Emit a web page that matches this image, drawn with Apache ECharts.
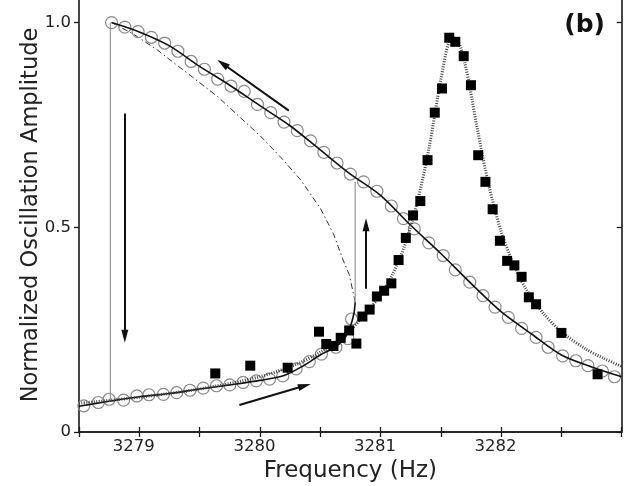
<!DOCTYPE html>
<html>
<head>
<meta charset="utf-8">
<script src="https://cdn.jsdelivr.net/npm/echarts@6/dist/echarts.min.js"></script>
<style>
html,body{margin:0;padding:0;background:#fff;}
#chart{width:624px;height:486px;}
</style>
</head>
<body>
<div id="chart"></div>
<script>
// ---- data ----
const upperCircleX = [3278.77,3278.88,3278.99,3279.10,3279.21,3279.32,3279.43,3279.54,3279.65,3279.76,3279.87,3279.98,3280.09,3280.20,3280.31,3280.42,3280.53,3280.64,3280.75,3280.86,3280.97,3281.09,3281.19,3281.28,3281.40,3281.52,3281.62,3281.74,3281.85,3281.95,3282.06,3282.17,3282.29,3282.39,3282.51,3282.62,3282.72,3282.84,3282.94];
const upperCircleY = [1.000,0.989,0.978,0.964,0.950,0.930,0.905,0.886,0.862,0.845,0.832,0.800,0.780,0.757,0.736,0.711,0.683,0.657,0.630,0.611,0.588,0.552,0.521,0.496,0.462,0.431,0.396,0.366,0.333,0.305,0.280,0.253,0.231,0.207,0.186,0.174,0.162,0.149,0.135];
const lowerCircleX = [3278.54,3278.66,3278.75,3278.87,3278.98,3279.08,3279.20,3279.31,3279.42,3279.53,3279.64,3279.75,3279.86,3279.97,3280.08,3280.19,3280.30,3280.41,3280.51,3280.63,3280.73,3280.76];
const lowerCircleY = [0.064,0.072,0.080,0.078,0.088,0.091,0.092,0.096,0.102,0.107,0.113,0.115,0.121,0.125,0.129,0.137,0.154,0.172,0.190,0.207,0.228,0.276];
const upperFitX = [3278.77,3279.0,3279.25,3279.5,3279.75,3280.0,3280.25,3280.5,3280.75,3281.0,3281.25,3281.5,3281.75,3282.0,3282.25,3282.5,3282.75,3283.0];
const upperFitY = [1.000,0.977,0.943,0.893,0.847,0.797,0.748,0.689,0.630,0.578,0.505,0.436,0.363,0.294,0.240,0.188,0.159,0.135];
const lowerFitX = [3278.5,3278.75,3279.0,3279.25,3279.5,3279.75,3280.0,3280.2,3280.35,3280.5,3280.62,3280.7,3280.75,3280.78,3280.79];
const lowerFitY = [0.063,0.075,0.086,0.094,0.105,0.115,0.126,0.138,0.160,0.188,0.207,0.228,0.258,0.290,0.317];
const unstableX = [3280.79,3280.77,3280.74,3280.69,3280.61,3280.50,3280.34,3280.17,3280.0,3279.65,3279.40,3279.15,3278.95,3278.77];
const unstableY = [0.317,0.345,0.385,0.420,0.484,0.547,0.615,0.672,0.724,0.819,0.876,0.933,0.972,1.000];
const squareX = [3279.63,3279.92,3280.23,3280.49,3280.55,3280.61,3280.67,3280.74,3280.80,3280.85,3280.91,3280.97,3281.03,3281.09,3281.15,3281.21,3281.27,3281.33,3281.39,3281.45,3281.51,3281.57,3281.62,3281.69,3281.75,3281.81,3281.87,3281.93,3281.99,3282.05,3282.11,3282.17,3282.23,3282.29,3282.50,3282.80];
const squareY = [0.143,0.162,0.157,0.245,0.215,0.210,0.230,0.248,0.216,0.282,0.299,0.331,0.345,0.363,0.420,0.474,0.529,0.564,0.664,0.780,0.839,0.963,0.953,0.918,0.847,0.676,0.611,0.544,0.467,0.418,0.407,0.379,0.329,0.312,0.242,0.141];
const linearFitX = [3278.5,3279.0,3279.5,3280.0,3280.3,3280.5,3280.7,3280.85,3281.0,3281.1,3281.2,3281.3,3281.4,3281.5,3281.57,3281.62,3281.7,3281.8,3281.9,3282.0,3282.1,3282.2,3282.35,3282.5,3282.7,3282.85,3283.0];
const linearFitY = [0.070,0.085,0.105,0.135,0.165,0.195,0.235,0.280,0.335,0.385,0.455,0.555,0.690,0.860,0.955,0.962,0.900,0.745,0.600,0.490,0.412,0.352,0.290,0.245,0.203,0.180,0.160];
// jump lines (gray)
const jumpDownX = [3278.76,3278.76];
const jumpDownY = [0.078,1.000];
const jumpUpX = [3280.79,3280.79];
const jumpUpY = [0.317,0.611];
// arrows [x0,y0,x1,y1] in data units
const arrowUpper = [3280.24,0.785,3279.69,0.900];
const arrowDown = [3278.88,0.778,3278.88,0.234];
const arrowUp = [3280.88,0.350,3280.88,0.506];
const arrowLower = [3279.83,0.066,3280.37,0.113];
// ticks
const xTickValues = [3279,3280,3281,3282];
const xTickLabels = ['3279','3280','3281','3282'];
const yTickValues = [0,0.5,1];
const yTickLabels = ['0','0.5','1.0'];

const zip = (xs, ys) => xs.map((x, i) => [x, ys[i]]);
const lookup = (vals, labels) => v => {
  const i = vals.findIndex(t => Math.abs(t - v) < 1e-6);
  return i >= 0 ? labels[i] : '';
};
const FONT = 'DejaVu Sans';
const axisLine = {show: true, lineStyle: {color: '#1a1a1a', width: 1.6}};
const arrowSeries = (c) => ({
  type: 'lines', coordinateSystem: 'cartesian2d', xAxisIndex: 0, yAxisIndex: 0,
  symbol: ['none', 'path://M0,0 L1,2 L-1,2 Z'], symbolSize: [0, [7, 13]],
  lineStyle: {color: '#111', width: 2, opacity: 1}, silent: true, z: 6,
  data: [{coords: [[c[0], c[1]], [c[2], c[3]]]}]
});

const chart = echarts.init(document.getElementById('chart'), null, {renderer: 'canvas'});
chart.setOption({
  animation: false,
  backgroundColor: '#fff',
  grid: {left: 79, right: 2.3, top: -2, bottom: 54, outerBoundsMode: 'none', containLabel: false},
  xAxis: [{
    type: 'value', min: 3278.5, max: 3283, interval: 0.5, position: 'bottom',
    axisLine: axisLine, splitLine: {show: false},
    axisTick: {show: true, inside: true, length: 5, lineStyle: {color: '#1a1a1a', width: 1.3}},
    axisLabel: {formatter: lookup(xTickValues, xTickLabels), color: '#222', fontFamily: FONT, fontSize: 16.5, margin: 6, padding: [0, 11, 0, 0], showMinLabel: true, showMaxLabel: true},
    name: 'Frequency (Hz)', nameLocation: 'middle', nameGap: 28, nameMoveOverlap: false,
    nameTextStyle: {color: '#222', fontFamily: FONT, fontSize: 23}
  }, {
    type: 'value', min: 3278.5, max: 3283, interval: 0.5, position: 'top',
    axisLine: axisLine, splitLine: {show: false},
    axisTick: {show: true, inside: true, length: 5, lineStyle: {color: '#1a1a1a', width: 1.3}},
    axisLabel: {show: false}
  }],
  yAxis: [{
    type: 'value', min: 0, max: 1.06, interval: 0.5, position: 'left',
    axisLine: axisLine, splitLine: {show: false},
    axisTick: {show: true, inside: false, length: 5, lineStyle: {color: '#1a1a1a', width: 1.3}},
    axisLabel: {formatter: lookup(yTickValues, yTickLabels), color: '#222', fontFamily: FONT, fontSize: 16.5, margin: 8},
    name: 'Normalized Oscillation Amplitude', nameLocation: 'middle', nameGap: 36, nameMoveOverlap: false,
    nameTextStyle: {color: '#222', fontFamily: FONT, fontSize: 22.5}
  }, {
    type: 'value', min: 0, max: 1.06, interval: 0.5, position: 'right',
    axisLine: axisLine, splitLine: {show: false},
    axisTick: {show: true, inside: true, length: 5, lineStyle: {color: '#1a1a1a', width: 1.3}},
    axisLabel: {show: false}
  }],
  graphic: [{
    type: 'text', right: 19, top: 13,
    style: {text: '(b)', fontFamily: FONT, fontWeight: 'bold', fontSize: 25, fill: '#111'}
  }],
  series: [
    {type: 'line', data: zip(unstableX, unstableY), showSymbol: false, symbol: 'none', z: 2,
     lineStyle: {color: '#333', width: 1, type: [6, 3, 1.5, 3]}},
    {type: 'scatter', data: zip(upperCircleX, upperCircleY), symbol: 'circle', symbolSize: 12, z: 3,
     itemStyle: {color: 'rgba(0,0,0,0)', borderColor: '#8a8a8a', borderWidth: 1.2, opacity: 1}},
    {type: 'scatter', data: zip(lowerCircleX, lowerCircleY), symbol: 'circle', symbolSize: 12, z: 3,
     itemStyle: {color: 'rgba(0,0,0,0)', borderColor: '#8a8a8a', borderWidth: 1.2, opacity: 1}},
    {type: 'line', data: zip(jumpDownX, jumpDownY), symbol: 'none', z: 3,
     lineStyle: {color: '#999', width: 1.2}},
    {type: 'line', data: zip(jumpUpX, jumpUpY), symbol: 'none', z: 3,
     lineStyle: {color: '#999', width: 1.2}},
    {type: 'line', data: zip(upperFitX, upperFitY), symbol: 'none', smooth: 0.3, z: 4,
     lineStyle: {color: '#111', width: 1.6}},
    {type: 'line', data: zip(lowerFitX, lowerFitY), symbol: 'none', smooth: 0.3, z: 4,
     lineStyle: {color: '#111', width: 1.6}},
    {type: 'line', data: zip(linearFitX, linearFitY), symbol: 'none', smooth: 0.3, z: 4,
     lineStyle: {color: '#444', width: 3, type: [1, 1.5]}},
    {type: 'scatter', data: zip(squareX, squareY), symbol: 'rect', symbolSize: 10, z: 5,
     itemStyle: {color: '#000', opacity: 1}},
    arrowSeries(arrowUpper), arrowSeries(arrowDown), arrowSeries(arrowUp), arrowSeries(arrowLower)
  ]
});
</script>
</body>
</html>
